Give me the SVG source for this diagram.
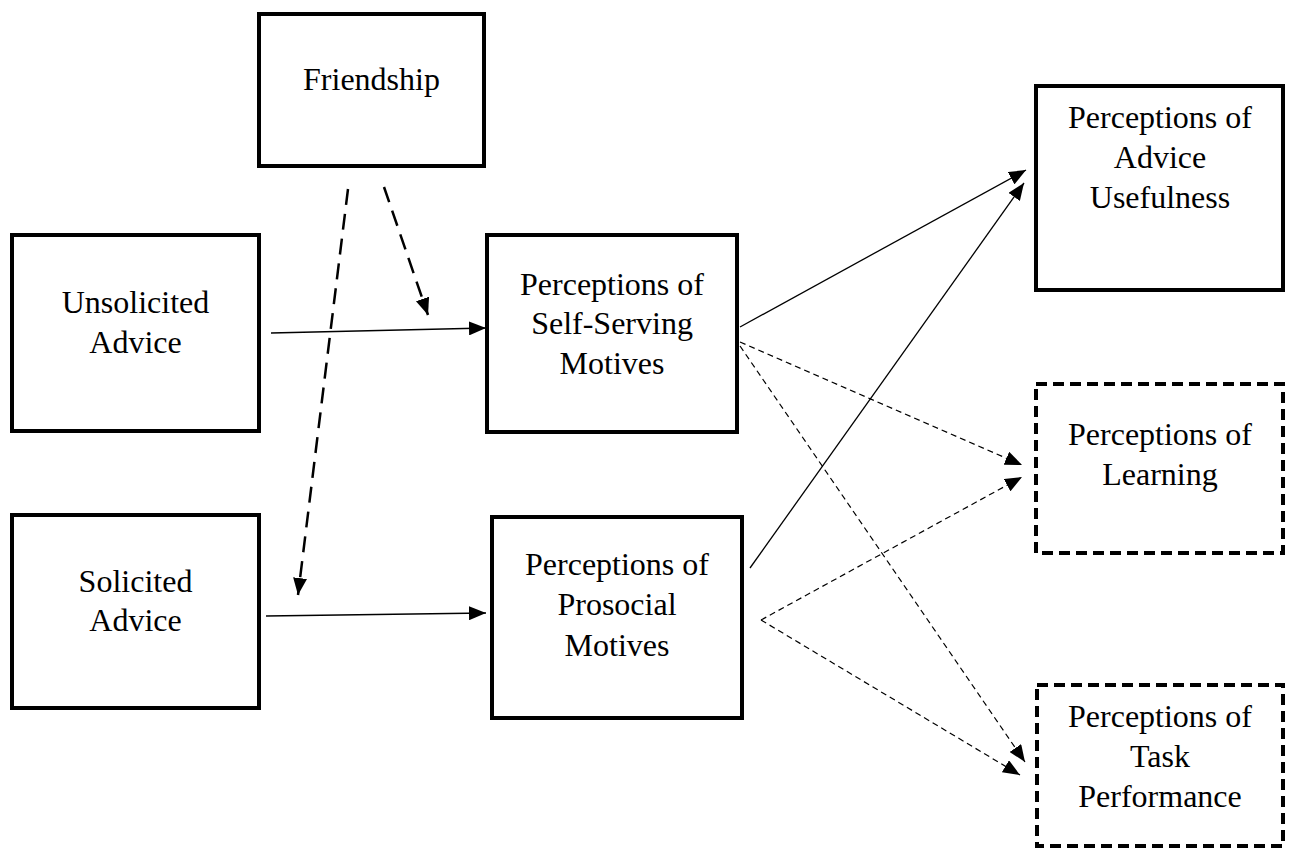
<svg xmlns="http://www.w3.org/2000/svg" width="1289" height="849" viewBox="0 0 1289 849">
<style>
.box{fill:#fff;stroke:#000;stroke-width:4}
.dbox{fill:#fff;stroke:#000;stroke-width:4;stroke-dasharray:11 6}
text{font-family:"Liberation Serif","Times New Roman",serif;font-size:32px;fill:#000;text-anchor:middle}
.solid{stroke:#000;stroke-width:1.3;fill:none}
.thind{stroke:#000;stroke-width:1.2;fill:none;stroke-dasharray:6 4}
.thickd{stroke:#000;stroke-width:2.5;fill:none;stroke-dasharray:16 9}
</style>
<defs>
<marker id="ah" markerUnits="userSpaceOnUse" markerWidth="18" markerHeight="14" refX="17" refY="7" orient="auto">
<path d="M0,0 L17,7 L0,14 Z" fill="#000"/>
</marker>
</defs>
<rect width="1289" height="849" fill="#fff"/>
<g id="connectors">
<line class="solid" x1="271" y1="333" x2="486" y2="328" marker-end="url(#ah)"/>
<line class="solid" x1="266" y1="616" x2="486" y2="613" marker-end="url(#ah)"/>
<line class="thickd" x1="348" y1="189" x2="298" y2="595" marker-end="url(#ah)"/>
<line class="thickd" x1="384" y1="187" x2="428" y2="315" marker-end="url(#ah)"/>
<line class="solid" x1="740" y1="327" x2="1026" y2="170" marker-end="url(#ah)"/>
<line class="solid" x1="750" y1="568" x2="1024" y2="183" marker-end="url(#ah)"/>
<line class="thind" x1="740" y1="342" x2="1022" y2="465" marker-end="url(#ah)"/>
<line class="thind" x1="740" y1="346" x2="1025" y2="762" marker-end="url(#ah)"/>
<line class="thind" x1="761" y1="620" x2="1022" y2="477" marker-end="url(#ah)"/>
<line class="thind" x1="761" y1="620" x2="1020" y2="775" marker-end="url(#ah)"/>
</g>
<g id="friendship">
<rect class="box" x="259" y="14" width="225" height="152"/>
<text x="371.5" y="90">Friendship</text>
</g>
<g id="unsolicited">
<rect class="box" x="12" y="235" width="247" height="196"/>
<text x="135.5" y="313">Unsolicited</text>
<text x="135.5" y="353">Advice</text>
</g>
<g id="solicited">
<rect class="box" x="12" y="515" width="247" height="193"/>
<text x="135.5" y="592">Solicited</text>
<text x="135.5" y="631">Advice</text>
</g>
<g id="selfserving">
<rect class="box" x="487" y="235" width="250" height="197"/>
<text x="612" y="295">Perceptions of</text>
<text x="612" y="334">Self-Serving</text>
<text x="612" y="374">Motives</text>
</g>
<g id="prosocial">
<rect class="box" x="492" y="517" width="250" height="201"/>
<text x="617" y="575">Perceptions of</text>
<text x="617" y="615">Prosocial</text>
<text x="617" y="656">Motives</text>
</g>
<g id="usefulness">
<rect class="box" x="1036" y="86" width="247" height="204"/>
<text x="1160" y="128">Perceptions of</text>
<text x="1160" y="168">Advice</text>
<text x="1160" y="208">Usefulness</text>
</g>
<g id="learning">
<rect class="dbox" x="1036" y="384" width="247" height="169"/>
<text x="1160" y="445">Perceptions of</text>
<text x="1160" y="485">Learning</text>
</g>
<g id="task">
<rect class="dbox" x="1037" y="685" width="246" height="161"/>
<text x="1160" y="727">Perceptions of</text>
<text x="1160" y="767">Task</text>
<text x="1160" y="807">Performance</text>
</g>
</svg>
